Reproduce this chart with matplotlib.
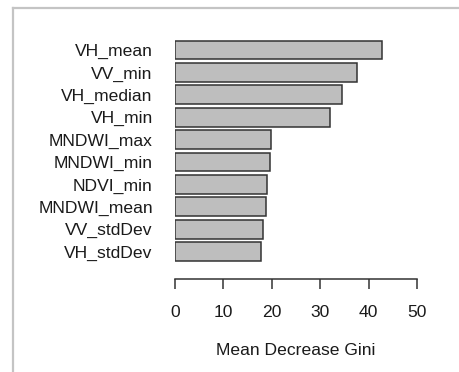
import matplotlib
matplotlib.use('Agg')
import matplotlib.pyplot as plt
from matplotlib.lines import Line2D

# variable importance from the random forest
features = ['VH_mean', 'VV_min', 'VH_median', 'VH_min', 'MNDWI_max',
            'MNDWI_min', 'NDVI_min', 'MNDWI_mean', 'VV_stdDev', 'VH_stdDev']
gini = [42.7, 37.5, 34.6, 32.1, 19.8, 19.6, 19.1, 18.7, 18.2, 17.7]
xticks = [0, 10, 20, 30, 40, 50]

W, H = 460, 372
plt.rcParams['font.family'] = ['Liberation Sans', 'DejaVu Sans']
fs = 12.6

fig = plt.figure(figsize=(W / 100, H / 100), dpi=100, facecolor='white')

# axes placed in pixel terms: x=0 at 175px, x=50 at 417px, axis line at 279px
left, right = 175, 417
top, bottom = 30, 279.3
ax = fig.add_axes([left / W, 1 - bottom / H, (right - left) / W, (bottom - top) / H])

step = 22.4
ypos = list(range(len(features)))
ax.barh(ypos, gini, height=1 / 1.2, color='#bebebe', edgecolor='#333333',
        linewidth=1.1)

ax.set_xlim(0, 50)
ax.set_ylim((bottom - 50) / step, (top - 50) / step)

for s in ['top', 'right', 'left']:
    ax.spines[s].set_visible(False)
ax.spines['bottom'].set_color('#333333')
ax.spines['bottom'].set_linewidth(1.1)

ax.set_xticks(xticks)
ax.set_xticklabels([str(t) for t in xticks])
ax.tick_params(axis='x', length=7.2, width=1.1, color='#333333', pad=11,
               labelsize=fs, labelcolor='#1a1a1a')

ax.set_yticks(ypos)
ax.set_yticklabels(features)
ax.tick_params(axis='y', left=False, pad=12.5, labelsize=fs, labelcolor='#1a1a1a')

ax.set_xlabel('Mean Decrease Gini', fontsize=fs, color='#1a1a1a', labelpad=17)

# light gray frame on the left and top edges
fig.add_artist(Line2D([13.5 / W, 13.5 / W], [0, 1 - 7.5 / H], transform=fig.transFigure,
                      color='#c4c4c4', linewidth=1.6))
fig.add_artist(Line2D([13.5 / W, 1], [1 - 7.5 / H, 1 - 7.5 / H], transform=fig.transFigure,
                      color='#c4c4c4', linewidth=1.6))

fig.savefig('out.png', dpi=100, facecolor='white')
